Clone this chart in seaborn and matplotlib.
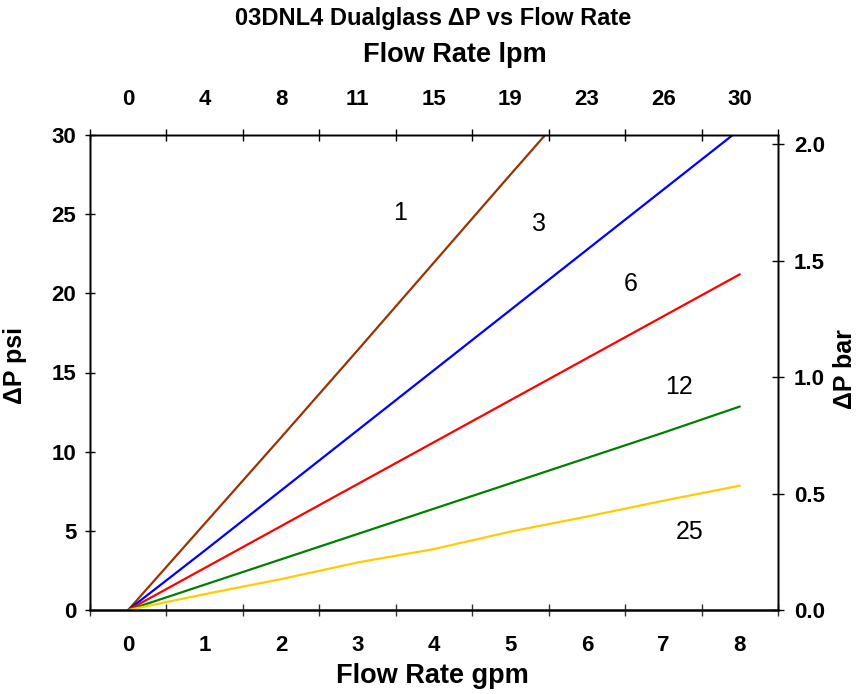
import matplotlib.pyplot as plt
import matplotlib.ticker as mtick
import pandas as pd
import seaborn as sns

# flow in gpm (bottom axis) and the matching lpm labels (top axis)
flow_gpm = [0, 1, 2, 3, 4, 5, 6, 7, 8]
lpm_labels = ["0", "4", "8", "11", "15", "19", "23", "26", "30"]

# pressure drop in psi per element rating (micron)
dp_1 = [0, 5.45, 10.9, 16.4, 21.95, 27.5, 33.0]  # runs off the top
dp_3 = [0, 3.75, 7.55, 11.35, 15.15, 18.95, 22.75, 26.55, 30.35]
dp_6 = [0, 2.65, 5.3, 7.95, 10.6, 13.25, 15.9, 18.55, 21.2]
dp_12 = [0, 1.6, 3.2, 4.8, 6.4, 8.0, 9.6, 11.2, 12.85]
dp_25 = [0, 1.0, 1.95, 3.0, 3.85, 4.95, 5.9, 6.9, 7.85]

ratings = ["1", "3", "6", "12", "25"]
colors = ["#993300", "#0000ff", "#ff0000", "#008000", "#ffcc00"]

rows = []
for rating, values in zip(ratings, [dp_1, dp_3, dp_6, dp_12, dp_25]):
    for gpm, psi in zip(flow_gpm, values):
        rows.append({"gpm": gpm, "psi": psi, "rating": rating})
df = pd.DataFrame(rows)

sns.set_theme(style="ticks")
plt.rcParams["font.family"] = ["Liberation Sans", "DejaVu Sans"]
plt.rcParams["text.color"] = "black"
plt.rcParams["xtick.color"] = "black"
plt.rcParams["ytick.color"] = "black"
plt.rcParams["xtick.labelcolor"] = "black"
plt.rcParams["ytick.labelcolor"] = "black"

TICK_SIZE = 16

fig = plt.figure(figsize=(8.59, 6.94), dpi=100)
ax = fig.add_axes([90 / 859, 1 - 610 / 694, 688 / 859, 475 / 694])

sns.lineplot(
    data=df, x="gpm", y="psi", hue="rating", hue_order=ratings,
    palette=colors, linewidth=1.6, legend=False, ax=ax,
)

ax.set_xlim(-0.5, 8.5)
ax.set_ylim(0, 30)
ax.set_xlabel("")
ax.set_ylabel("")

half_ticks = [i - 0.5 for i in range(10)]
ax.set_xticks(flow_gpm)
ax.set_xticks(half_ticks, minor=True)
ax.set_yticks(range(0, 31, 5))
ax.tick_params(axis="x", which="major", length=0, pad=18, labelsize=TICK_SIZE)
ax.tick_params(axis="x", which="minor", length=9, width=1, direction="inout", color="#333333")
ax.tick_params(axis="y", length=7.5, width=1, direction="inout", pad=6, labelsize=TICK_SIZE)
for lab in ax.get_xticklabels() + ax.get_yticklabels():
    lab.set_fontweight("bold")

# top axis in lpm
ax_top = ax.twiny()
ax_top.set_xlim(ax.get_xlim())
ax_top.set_xticks(flow_gpm)
ax_top.set_xticklabels(lpm_labels, fontweight="bold")
ax_top.set_xticks(half_ticks, minor=True)
ax_top.tick_params(axis="x", which="major", length=0, pad=18, labelsize=TICK_SIZE)
ax_top.tick_params(axis="x", which="minor", length=9, width=1, direction="inout")

# right axis in bar
ax_r = ax.twinx()
ax_r.set_ylim(0, 2.04)
ax_r.set_yticks([0, 0.5, 1.0, 1.5, 2.0])
ax_r.yaxis.set_major_formatter(mtick.FormatStrFormatter("%.1f"))
ax_r.tick_params(axis="y", length=9, width=1, direction="inout", pad=7, labelsize=TICK_SIZE)
for lab in ax_r.get_yticklabels():
    lab.set_fontweight("bold")

for a in (ax, ax_top, ax_r):
    for side in ("left", "right", "top", "bottom"):
        a.spines[side].set_visible(True)
        a.spines[side].set_color("black")
        a.spines[side].set_linewidth(1)
ax.spines["bottom"].set_linewidth(1.8)
ax.spines["bottom"].set_color("#333333")

for rating, lx, ly in zip(ratings, [3.55, 5.38, 6.57, 7.21, 7.34], [25.1, 24.4, 20.6, 14.1, 4.94]):
    ax.text(lx, ly, rating, fontsize=18, ha="center", va="center")

fig.text(433 / 859, 1 - 18 / 694, "03DNL4 Dualglass ΔP vs Flow Rate",
         fontsize=17, fontweight="bold", ha="center", va="center")
fig.text(455 / 859, 1 - 55 / 694, "Flow Rate lpm",
         fontsize=19.5, fontweight="bold", ha="center", va="center")
fig.text(432 / 859, 1 - 676 / 694, "Flow Rate gpm",
         fontsize=19.5, fontweight="bold", ha="center", va="center")
fig.text(15 / 859, 1 - 366 / 694, "ΔP psi", rotation=90,
         fontsize=18, fontweight="bold", ha="center", va="center")
fig.text(845 / 859, 1 - 369 / 694, "ΔP bar", rotation=90,
         fontsize=18, fontweight="bold", ha="center", va="center")

fig.savefig("out.png", dpi=100)
